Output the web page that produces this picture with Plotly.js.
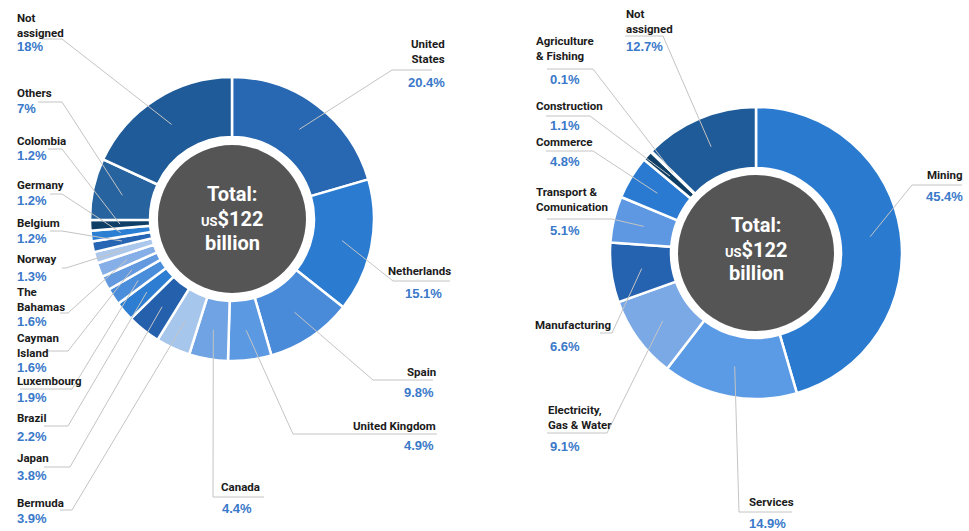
<!DOCTYPE html>
<html><head><meta charset="utf-8">
<script src="https://cdn.plot.ly/plotly-3.0.1.min.js"></script>
<style>html,body{margin:0;padding:0;background:#fff;}#chart{width:969px;height:531px;}</style>
</head><body><div id="chart"></div>
<script>
// ---------------- DATA ----------------
const countryLabels = ["United States","Netherlands","Spain","United Kingdom","Canada","Bermuda","Japan","Brazil","Luxembourg","Cayman Island","The Bahamas","Norway","Belgium","Germany","Colombia","Others","Not assigned"];
const countryValues = [20.4,15.1,9.8,4.9,4.4,3.9,3.8,2.2,1.9,1.6,1.6,1.3,1.2,1.2,1.2,7,18];
const countryNameLines = [["United","States"],["Netherlands"],["Spain"],["United Kingdom"],["Canada"],["Bermuda"],["Japan"],["Brazil"],["Luxembourg"],["Cayman","Island"],["The","Bahamas"],["Norway"],["Belgium"],["Germany"],["Colombia"],["Others"],["Not","assigned"]];

const sectorLabels = ["Mining","Services","Electricity, Gas & Water","Manufacturing","Transport & Comunication","Commerce","Construction","Agriculture & Fishing","Not assigned"];
const sectorValues = [45.4,14.9,9.1,6.6,5.1,4.8,1.1,0.1,12.7];
const sectorNameLines = [["Mining"],["Services"],["Electricity,","Gas & Water"],["Manufacturing"],["Transport &","Comunication"],["Commerce"],["Construction"],["Agriculture","& Fishing"],["Not","assigned"]];

const centerLines = ["Total:", "US", "$122", "billion"];

// ---------------- STYLE / LAYOUT ----------------
const countryColors = ["#2867b2","#2b7bd0","#4a8bd9","#5c99e3","#6fa3e3","#a7c6ec","#2560ad","#2d7ed2","#4a8ddb","#6399df","#85afe6","#abc7ec","#2565b4","#2b7fd3","#0f3f66","#27649f","#1f5b98"];
const sectorColors = ["#2a7bd0","#5b9ae4","#7aa9e6","#2562b0","#5e98e2","#2a7ad2","#0f3f66","#1f5b98","#1f5b98"];

const W = 969, H = 531;
const fx = x => x / W, fy = y => 1 - y / H;

const donuts = [
  {cx:232, cy:219, R:142, inner:82, gray:74, textY:[194,219,243]},
  {cx:756, cy:253, R:146, inner:85, gray:78, textY:[225,250,273]}
];

// label placement (pixels)
const countryPlace = [
  {x:446, a:'right', ny:[44,58], py:82, px:446, ey:70, hx:432, ex:392},
  {x:452, a:'right', ny:[271], py:293, px:443, ey:281, hx:450, ex:393},
  {x:437, a:'right', ny:[372], py:392, px:435, ey:380, hx:433, ex:373},
  {x:437, a:'right', ny:[426], py:445, px:435, ey:434, hx:437, ex:293},
  {x:220, a:'left', ny:[487], py:508, px:221, ey:497, hx:264, ex:213},
  {x:16, a:'left', ny:[503], py:518, px:16, ey:510, hx:60, ex:72},
  {x:16, a:'left', ny:[458], py:475, px:16, ey:467, hx:44, ex:70},
  {x:16, a:'left', ny:[418], py:436, px:16, ey:426, hx:44, ex:68},
  {x:16, a:'left', ny:[381], py:397, px:16, ey:389, hx:20, ex:72},
  {x:16, a:'left', ny:[339,352], py:367, px:16, ey:351, hx:45, ex:68},
  {x:16, a:'left', ny:[293,305], py:321, px:16, ey:313, hx:60, ex:68},
  {x:16, a:'left', ny:[259], py:276, px:16, ey:268, hx:62, ex:66},
  {x:16, a:'left', ny:[223], py:238, px:16, ey:231, hx:50, ex:62},
  {x:16, a:'left', ny:[185], py:201, px:16, ey:194, hx:50, ex:62},
  {x:16, a:'left', ny:[141], py:156, px:16, ey:149, hx:48, ex:62},
  {x:16, a:'left', ny:[93], py:108, px:16, ey:102, hx:38, ex:62},
  {x:16, a:'left', ny:[20,32], py:46, px:16, ey:39, hx:42, ex:62}
];
const sectorPlace = [
  {x:964, a:'right', ny:[175], py:196, px:964, ey:185, hx:962, ex:912},
  {x:748, a:'left', ny:[502], py:523, px:748, ey:512, hx:792, ex:739},
  {x:547, a:'left', ny:[410,425], py:446, px:549, ey:433, hx:547, ex:607},
  {x:534, a:'left', ny:[325], py:346, px:549, ey:333, hx:600, ex:612},
  {x:535, a:'left', ny:[191,207], py:230, px:549, ey:219, hx:547, ex:612},
  {x:535, a:'left', ny:[142], py:161, px:549, ey:151, hx:546, ex:593},
  {x:535, a:'left', ny:[106], py:125, px:549, ey:116, hx:546, ex:590},
  {x:535, a:'left', ny:[42,55], py:79, px:549, ey:69, hx:547, ex:593},
  {x:625, a:'left', ny:[16,28], py:46, px:625, ey:36, hx:625, ex:663}
];

const nameFont = {family:'Roboto, Liberation Sans, sans-serif', size:11.5, color:'#1b1b1b'};
const pctFont = {family:'Liberation Sans, Arial, sans-serif', size:13, color:'#3a79c9'};
const centerFont = {family:'Roboto, Liberation Sans, sans-serif', size:20, color:'#ffffff'};

function domainOf(d, r) {
  return {x:[fx(d.cx - r), fx(d.cx + r)], y:[fy(d.cy + r), fy(d.cy - r)]};
}

const traces = [];
const shapes = [];
const annotations = [];

function addDonut(d, labels, values, colors, nameLines, place) {
  traces.push({
    type:'pie', labels:labels, values:values, sort:false, direction:'clockwise', rotation:0,
    hole:d.inner / d.R, domain:domainOf(d, d.R),
    marker:{colors:colors, line:{color:'#ffffff', width:2.5}},
    textinfo:'none', hoverinfo:'label+percent', showlegend:false
  });
  traces.push({
    type:'pie', labels:['Total'], values:[1], sort:false, domain:domainOf(d, d.gray),
    marker:{colors:['#555555'], line:{width:0}}, textinfo:'none', hoverinfo:'skip', showlegend:false
  });
  const total = values.reduce((s, v) => s + v, 0);
  let cum = 0;
  values.forEach((v, i) => {
    const frac = (cum + v / 2) / total;
    cum += v;
    const th = 2 * Math.PI * frac;
    const r = 0.79 * d.R;
    const sx = d.cx + r * Math.sin(th), sy = d.cy - r * Math.cos(th);
    const p = place[i];
    shapes.push({
      type:'path', xref:'paper', yref:'paper', layer:'above',
      path:`M ${fx(sx)} ${fy(sy)} L ${fx(p.ex)} ${fy(p.ey)} L ${fx(p.hx)} ${fy(p.ey)}`,
      line:{color:'#c4c4c4', width:1}
    });
    const ny = p.ny.reduce((s, y) => s + y, 0) / p.ny.length;
    annotations.push({xref:'paper', yref:'paper', x:fx(p.x), y:fy(ny), xanchor:p.a, yanchor:'middle', align:p.a,
      text:nameLines[i].map(t => '<b>' + t + '</b>').join('<br>'), showarrow:false, font:nameFont, borderpad:0});
    annotations.push({xref:'paper', yref:'paper', x:fx(p.px), y:fy(p.py), xanchor:p.a, yanchor:'middle',
      text:'<b>' + v + '%</b>', showarrow:false, font:pctFont, borderpad:0});
  });
  annotations.push({xref:'paper', yref:'paper', x:fx(d.cx), y:fy(d.textY[0]), xanchor:'center', yanchor:'middle',
    text:'<b>' + centerLines[0] + '</b>', showarrow:false, font:centerFont, borderpad:0});
  annotations.push({xref:'paper', yref:'paper', x:fx(d.cx), y:fy(d.textY[1]), xanchor:'center', yanchor:'middle',
    text:'<b><span style="font-size:13px">' + centerLines[1] + '</span>' + centerLines[2] + '</b>', showarrow:false, font:centerFont, borderpad:0});
  annotations.push({xref:'paper', yref:'paper', x:fx(d.cx), y:fy(d.textY[2]), xanchor:'center', yanchor:'middle',
    text:'<b>' + centerLines[3] + '</b>', showarrow:false, font:centerFont, borderpad:0});
}

addDonut(donuts[0], countryLabels, countryValues, countryColors, countryNameLines, countryPlace);
addDonut(donuts[1], sectorLabels, sectorValues, sectorColors, sectorNameLines, sectorPlace);

const layout = {
  width:W, height:H, margin:{l:0, r:0, t:0, b:0},
  paper_bgcolor:'#ffffff', plot_bgcolor:'#ffffff',
  showlegend:false, shapes:shapes, annotations:annotations
};
Plotly.newPlot('chart', traces, layout, {displayModeBar:false, staticPlot:true});
</script>
</body></html>
